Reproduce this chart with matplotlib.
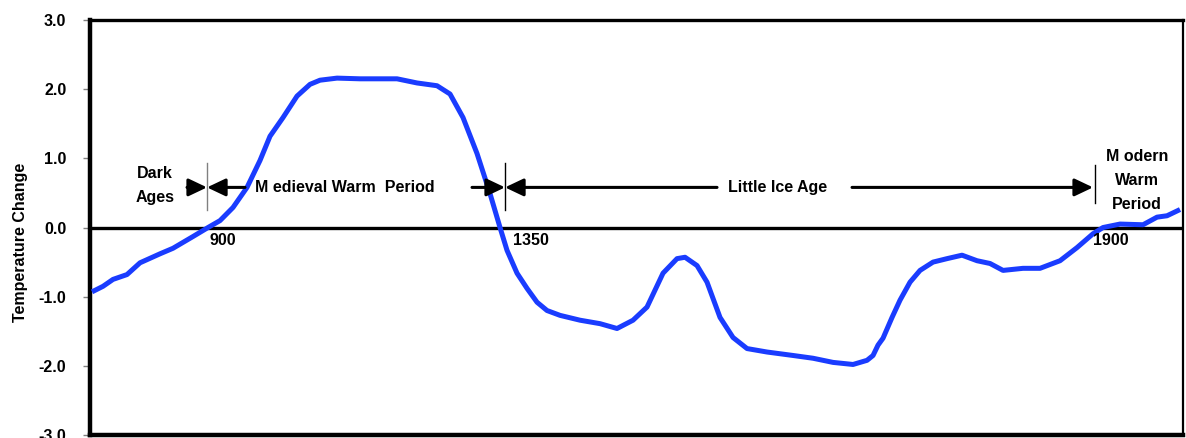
import matplotlib.pyplot as plt

# curve: position along the axis (0 = left edge) and temperature change
pos = [2, 13, 23, 37, 50, 70, 83, 103, 118, 130, 143, 157, 170, 180, 193, 207,
       220, 230, 247, 270, 307, 327, 347, 360, 373, 387, 400, 410, 417, 427,
       437, 447, 457, 470, 490, 510, 527, 543, 557, 573, 587, 595, 607, 617,
       630, 643, 657, 677, 703, 723, 743, 763, 777, 783, 788, 793, 802, 810,
       820, 830, 843, 857, 872, 887, 900, 913, 933, 950, 970, 987, 1003, 1013,
       1030, 1053, 1067, 1077, 1090]
temp = [-0.93, -0.85, -0.75, -0.68, -0.51, -0.38, -0.30, -0.13, 0.0, 0.10,
        0.29, 0.58, 0.97, 1.32, 1.59, 1.90, 2.07, 2.13, 2.16, 2.15, 2.15, 2.09,
        2.05, 1.93, 1.59, 1.07, 0.49, 0.0, -0.33, -0.66, -0.88, -1.08, -1.20,
        -1.27, -1.34, -1.39, -1.46, -1.34, -1.15, -0.66, -0.45, -0.43, -0.55,
        -0.79, -1.30, -1.59, -1.75, -1.80, -1.85, -1.89, -1.95, -1.98, -1.92,
        -1.85, -1.70, -1.60, -1.30, -1.05, -0.79, -0.62, -0.50, -0.45, -0.40,
        -0.48, -0.52, -0.62, -0.59, -0.59, -0.48, -0.29, -0.09, 0.0, 0.05,
        0.04, 0.15, 0.17, 0.26]

# period boundaries (axis position) and their year labels
bound_pos = [117, 415, 1005]
label_pos = [119, 423, 1003]
bound_years = ['900', '1350', '1900']

fig = plt.figure(figsize=(11.86, 4.38), dpi=100)
ax = fig.add_axes([0.0759, 0.0068, 0.9216, 0.9475])

font = {'family': 'Liberation Sans', 'weight': 'bold'}
fs = 11.5
ax.plot(pos, temp, color='#1a3cff', lw=3.6, solid_capstyle='butt', zorder=3)
ax.axhline(0, color='black', lw=2.4, zorder=2)

ax.set_xlim(0, 1093)
ax.set_ylim(-3, 3)
ax.set_xticks([])
ax.set_yticks([-3, -2, -1, 0, 1, 2, 3])
ax.set_yticklabels(['%.1f' % v for v in [-3, -2, -1, 0, 1, 2, 3]], fontdict=dict(size=fs, **font))
ax.tick_params(axis='y', direction='out', length=5, width=1, color='gray', pad=12)
ax.set_ylabel('Temperature Change', fontdict=dict(size=fs, **font))
ax.yaxis.set_label_coords(-0.057, 0.463)

for side, w in [('left', 3.2), ('bottom', 3.2), ('top', 2.4), ('right', 1.6)]:
    ax.spines[side].set_linewidth(w)

arr_y = 0.58
head = dict(arrowstyle='-|>,head_length=0.8,head_width=0.38', color='black',
            lw=2.2, shrinkA=0, shrinkB=0, mutation_scale=14)

def arrow(x0, x1):
    ax.annotate('', xy=(x1, arr_y), xytext=(x0, arr_y), arrowprops=head, zorder=4)

arrow(97, bound_pos[0])
arrow(155, bound_pos[0])
arrow(382, bound_pos[1])
arrow(627, bound_pos[1])
arrow(762, bound_pos[2] - 2)

ax.plot([bound_pos[0]] * 2, [0.26, 0.94], color='gray', lw=1, zorder=5)
ax.plot([bound_pos[1]] * 2, [0.26, 0.94], color='black', lw=1, zorder=5)
ax.plot([bound_pos[2]] * 2, [0.35, 0.90], color='black', lw=1, zorder=5)

for x, label in zip(label_pos, bound_years):
    ax.text(x, -0.08, label, ha='left', va='top', size=fs, **font)

ax.text(65, 0.61, 'Dark\nAges', ha='center', va='center', size=fs, linespacing=1.75, **font)
ax.text(255, arr_y, 'M edieval Warm  Period', ha='center', va='center', size=fs, **font)
ax.text(688, arr_y, 'Little Ice Age', ha='center', va='center', size=fs, **font)
ax.text(1047, 0.68, 'M odern\nWarm\nPeriod', ha='center', va='center', size=fs, linespacing=1.75, **font)

fig.savefig('out.png', dpi=100)
